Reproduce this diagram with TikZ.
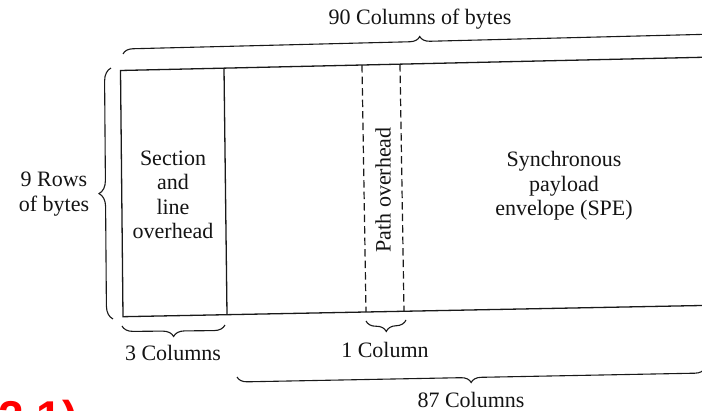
\documentclass[tikz,border=0pt]{standalone}
\usepackage{fontspec}
\setmainfont{Liberation Serif}
\newfontfamily\redfont{Liberation Sans}
\usetikzlibrary{decorations.pathreplacing}
\begin{document}
\begin{tikzpicture}[x=1pt,y=-1pt,
  frame/.style={line width=1.3pt, draw=black!90},
  dashline/.style={line width=1.2pt, draw=black!90, dash pattern=on 7.5pt off 4pt},
  bracebar/.style={line width=1.1pt, draw=black!90, decorate, decoration={brace, amplitude=#1}},
  mbracebar/.style={line width=1.1pt, draw=black!90, decorate, decoration={brace, mirror, amplitude=#1}},
  lbl/.style={font=\fontsize{22}{24.5}\selectfont, text=black!92, align=center, inner sep=0pt}
]
\useasboundingbox (0,0) rectangle (702,411);
\clip (0,0) rectangle (702,411);
% frame corners
\coordinate (TL) at (120.5,70.5);
\coordinate (TR) at (702,57.3);
\coordinate (BL) at (123,316.7);
\coordinate (BR) at (702,305.5);
\coordinate (D1t) at (224,68.2);
\coordinate (D1b) at (227,314.7);
\coordinate (P1t) at (362,65.1);
\coordinate (P1b) at (366,312);
\coordinate (P2t) at (400,64.2);
\coordinate (P2b) at (404,311.3);
\draw[frame] (TR) -- (TL) -- (BL) -- (BR);
\draw[frame] (D1t) -- (D1b);
\draw[dashline] (P1t) -- (P1b);
\draw[dashline] (P2t) -- (P2b);
% brace end points
\coordinate (b90a) at (123,54);
\coordinate (b90b) at (717,39);
\coordinate (b9a) at (113,319);
\coordinate (b9b) at (111,68);
\coordinate (b3a) at (122,326);
\coordinate (b3b) at (225,325);
\coordinate (b1a) at (366,321);
\coordinate (b1b) at (406,320);
\coordinate (b87a) at (237,377);
\coordinate (b87b) at (705,368);
\draw[bracebar=10pt] (b90a) -- (b90b);
\draw[bracebar=13pt] (b9a) -- (b9b);
\draw[mbracebar=11pt] (b3a) -- (b3b);
\draw[mbracebar=11pt] (b1a) -- (b1b);
\draw[mbracebar=10pt] (b87a) -- (b87b);
% labels
\node[lbl] (t90) at (420,19) {90 Columns of bytes};
\node[lbl] (t9) at (54,194) {9 Rows\\of bytes};
\node[lbl] (tsec) at (173,195) {Section\\and\\line\\overhead};
\node[lbl, rotate=90] (tpath) at (383,190) {Path overhead};
\node[lbl] (tspe) at (564,186) {Synchronous\\payload\\envelope (SPE)};
\node[lbl] (t3) at (173,353) {3 Columns};
\node[lbl] (t1) at (385,350) {1 Column};
\node[lbl] (t87) at (471,400) {87 Columns};
\node[font=\redfont\bfseries\fontsize{46}{50}\selectfont, text=red, anchor=base west, inner sep=0pt] (fig) at (-2,434) {2.1)};
\end{tikzpicture}
\end{document}
